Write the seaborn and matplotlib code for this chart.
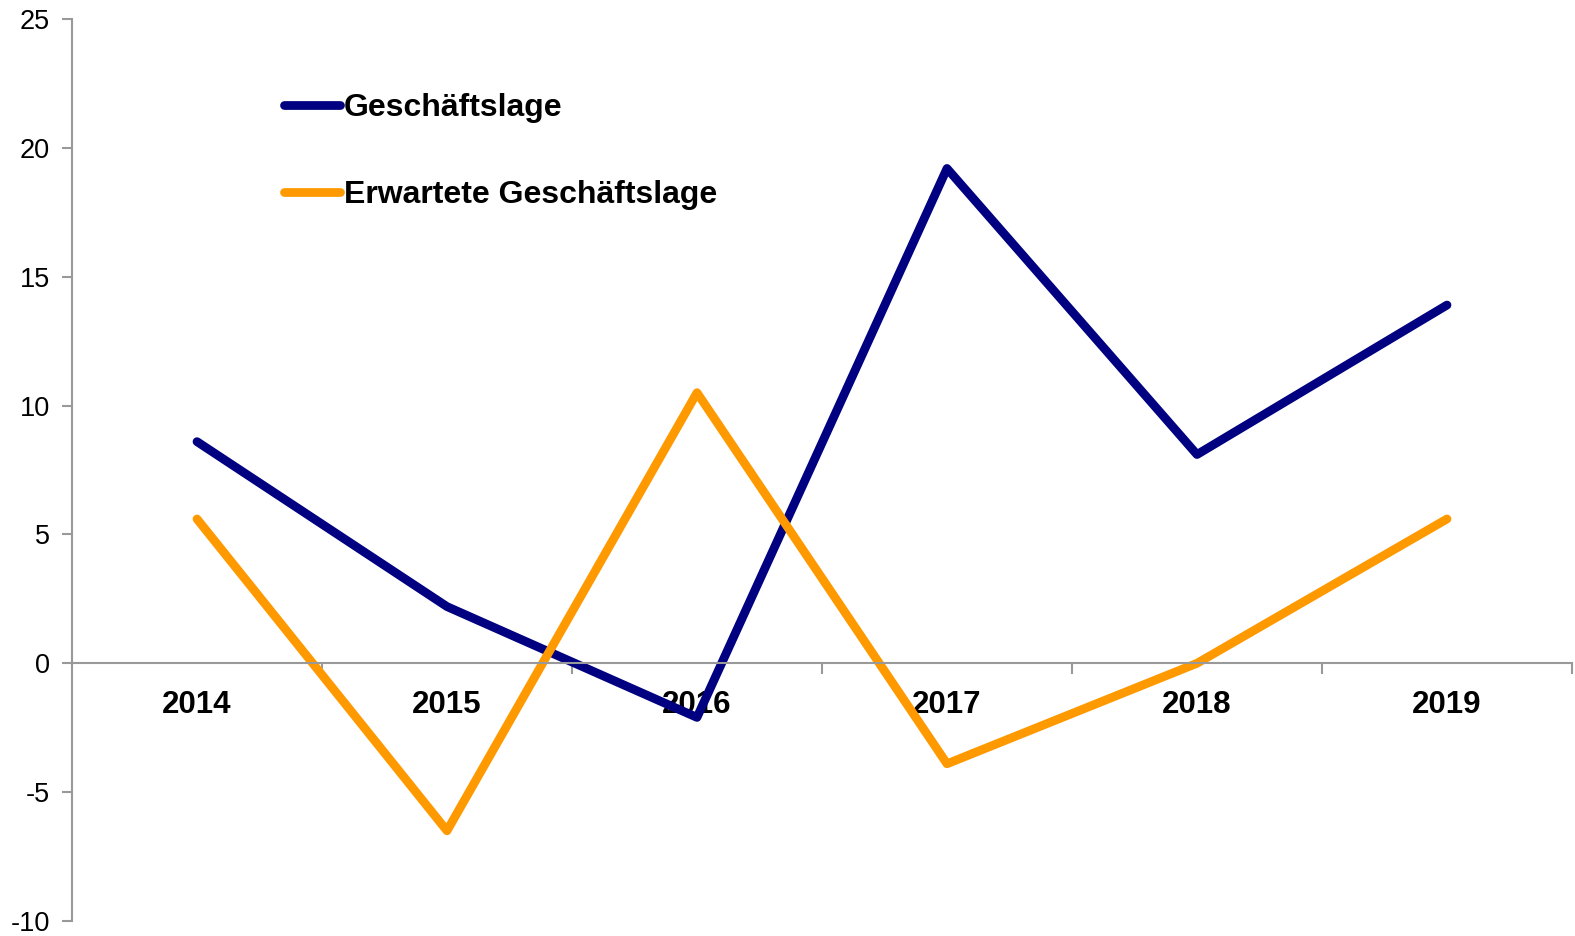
import numpy as np
import pandas as pd
import matplotlib
matplotlib.use("Agg")
import matplotlib.pyplot as plt
import seaborn as sns

# data
years = ["2014", "2015", "2016", "2017", "2018", "2019"]
geschaeftslage = [8.6, 2.2, -2.1, 19.2, 8.1, 13.9]
erwartete = [5.6, -6.5, 10.5, -3.9, 0.0, 5.6]
series_names = ["Geschäftslage", "Erwartete Geschäftslage"]
colors = ["#000080", "#FF9900"]

sns.set_theme(style="white")
plt.rcParams["font.family"] = ["Liberation Sans", "DejaVu Sans"]
plt.rcParams["axes.unicode_minus"] = False
plt.rcParams["text.color"] = "black"
plt.rcParams["xtick.color"] = "black"
plt.rcParams["ytick.color"] = "black"

pos = np.arange(len(years))
df = pd.DataFrame({
    "pos": np.concatenate([pos, pos]),
    "wert": geschaeftslage + erwartete,
    "serie": [series_names[0]] * len(years) + [series_names[1]] * len(years),
})

fig = plt.figure(figsize=(15.75, 9.36), dpi=100)
ax = fig.add_axes([72 / 1575, 1 - 921 / 936, 1500 / 1575, 902 / 936])

sns.lineplot(data=df, x="pos", y="wert", hue="serie", hue_order=series_names,
             palette=colors, linewidth=6.3, sort=False, ax=ax,
             solid_capstyle="round", solid_joinstyle="round")

ax.set_xlim(-0.5, 5.5)
ax.set_ylim(-10, 25)
ax.set_yticks(range(-10, 26, 5))
ax.set_xticks(pos)
ax.set_xticks(np.arange(0.5, 5.6, 1.0), minor=True)
ax.set_xticklabels(years)
ax.set_xlabel("")
ax.set_ylabel("")

grey = "#999999"
for side in ["top", "right"]:
    ax.spines[side].set_visible(False)
ax.spines["bottom"].set_position(("data", 0))
ax.spines["bottom"].set_color(grey)
ax.spines["bottom"].set_linewidth(1.5)
ax.spines["left"].set_color(grey)
ax.spines["left"].set_linewidth(1.5)

ax.tick_params(axis="y", direction="out", length=7, width=1.5, color=grey,
               labelsize=19.5, labelcolor="black", pad=9, left=True)
ax.tick_params(axis="x", which="major", length=0, pad=19, labelsize=22.5,
               labelcolor="black")
ax.tick_params(axis="x", which="minor", direction="out", length=8, width=1.5,
               color=grey, bottom=True)
for lbl in ax.get_xticklabels():
    lbl.set_fontweight("bold")

leg = ax.legend(loc="upper left", bbox_to_anchor=(284 / 1575, 1 - 93 / 936),
                bbox_transform=fig.transFigure, frameon=False,
                prop={"size": 23, "weight": "bold"}, handlelength=1.75,
                handletextpad=0.12, labelspacing=1.8, borderpad=0,
                borderaxespad=0)
for line in leg.get_lines():
    line.set_linewidth(6.3)
    line.set_solid_capstyle("round")
for txt in leg.get_texts():
    txt.set_color("black")

fig.savefig("out.png", dpi=100)
